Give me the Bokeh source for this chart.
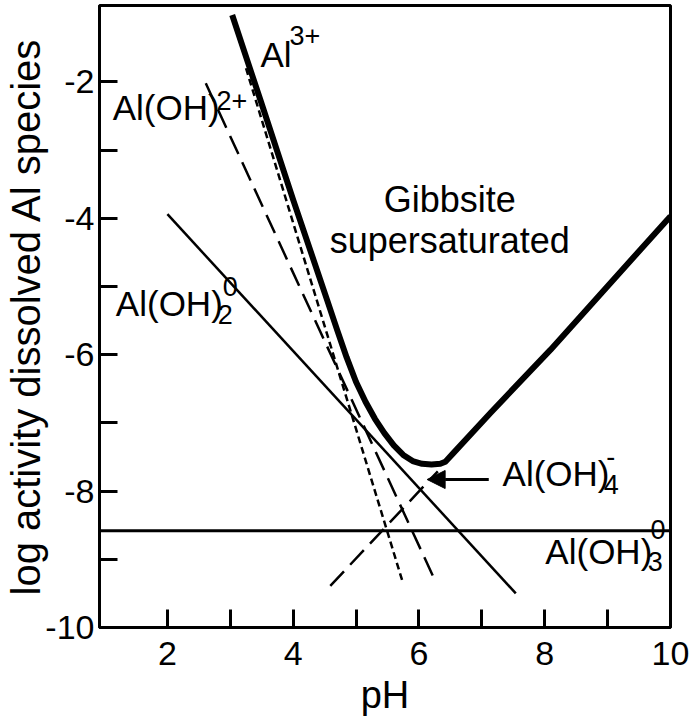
from bokeh.plotting import figure
from bokeh.models import FixedTicker, Arrow, NormalHead, Range1d
from bokeh.core.properties import value
from bokeh.embed import file_html
from bokeh.resources import INLINE

# --- axis ticks ---
x_ticks = [2, 4, 6, 8, 10]
x_minor = [3, 5, 7, 9]
y_ticks = [-10, -8, -6, -4, -2]
y_minor = [-9, -7, -5, -3]
y_tick_labels = ["-10", "-8", "-6", "-4", "-2"]

# --- total dissolved Al in equilibrium with gibbsite (thick curve) ---
ph_total = [3.03, 3.48, 4.00, 4.54, 4.70, 4.85, 5.00, 5.15, 5.30, 5.45,
            5.60, 5.75, 5.90, 6.05, 6.20, 6.34, 6.42, 6.55, 7.14, 8.09,
            9.95, 10.0]
log_total = [-1.02, -2.27, -3.73, -5.20, -5.64, -6.04, -6.40, -6.69, -6.94, -7.15,
             -7.33, -7.47, -7.56, -7.60, -7.61, -7.60, -7.57, -7.44, -6.85, -5.93,
             -4.02, -3.97]

# --- individual species lines ---
ph_al3 = [3.25, 5.75]          # Al3+ (dotted)
log_al3 = [-1.80, -9.36]

ph_aloh = [2.61, 6.27]         # Al(OH)2+ (dashed)
log_aloh = [-2.02, -9.34]

ph_aloh2 = [2.00, 7.54]        # Al(OH)2 (solid)
log_aloh2 = [-3.94, -9.50]

ph_aloh3 = [0.92, 10.0]        # Al(OH)3 (solid, horizontal)
log_aloh3 = [-8.58, -8.58]

ph_aloh4 = [4.59, 6.30]        # Al(OH)4- (dashed)
log_aloh4 = [-9.39, -7.71]

FONT = "Liberation Sans"

p = figure(width=691, height=724,
           x_range=Range1d(0.92, 10), y_range=Range1d(-10, -0.88),
           output_backend="svg", toolbar_location=None,
           min_border_left=99, min_border_right=21,
           min_border_top=5, min_border_bottom=97)

p.background_fill_color = "white"
p.border_fill_color = "white"
p.outline_line_color = "black"
p.outline_line_width = 3
p.xgrid.visible = False
p.ygrid.visible = False

for ax, ticks, minor in ((p.xaxis[0], x_ticks, x_minor), (p.yaxis[0], y_ticks, y_minor)):
    ax.ticker = FixedTicker(ticks=ticks, minor_ticks=minor)
    ax.major_tick_in = 18
    ax.major_tick_out = 0
    ax.minor_tick_in = 18
    ax.minor_tick_out = 0
    ax.major_tick_line_width = 3
    ax.minor_tick_line_width = 3
    ax.major_tick_line_color = "black"
    ax.minor_tick_line_color = "black"
    ax.axis_line_width = 3
    ax.axis_line_color = "black"
    ax.major_label_text_font = FONT
    ax.major_label_text_font_size = "34px"
    ax.major_label_text_color = "black"
    ax.axis_label_text_font = FONT
    ax.axis_label_text_font_style = "normal"
    ax.axis_label_text_color = "black"

p.xaxis.axis_label = "pH"
p.xaxis.axis_label_text_font_size = "38px"
p.xaxis.major_label_standoff = 14
p.xaxis.axis_label_standoff = 6

p.yaxis.axis_label = "log activity dissolved Al species"
p.yaxis.axis_label_text_font_size = "40px"
p.yaxis.major_label_overrides = dict(zip(y_ticks, y_tick_labels))
p.yaxis.major_label_standoff = 5
p.yaxis.axis_label_standoff = -6

# species lines
p.line(ph_aloh3, log_aloh3, line_color="black", line_width=3)
p.line(ph_aloh2, log_aloh2, line_color="black", line_width=2.5)
p.line(ph_aloh, log_aloh, line_color="black", line_width=2.5, line_dash="20 9")
p.line(ph_aloh4, log_aloh4, line_color="black", line_width=2.5, line_dash="20 9")
p.line(ph_al3, log_al3, line_color="black", line_width=2.5, line_dash="7 4")

# gibbsite solubility (total Al)
p.line(ph_total, log_total, line_color="black", line_width=6, line_join="round")

# arrow pointing at the Al(OH)4- line
p.add_layout(Arrow(end=NormalHead(size=18, fill_color="black", line_color="black"),
                   x_start=7.11, y_start=-7.83, x_end=6.13, y_end=-7.83,
                   line_color="black", line_width=3))

common = dict(text_font=value(FONT), text_color="black",
              text_align="left", text_baseline="alphabetic")

# main species names
p.text(x=[3.48, 1.13, 1.18, 7.33, 8.01],
       y=[-1.60, -2.37, -5.25, -7.74, -8.89],
       text=["Al", "Al(OH)", "Al(OH)", "Al(OH)", "Al(OH)"],
       text_font_size=value("35px"), **common)

# charges (superscripts)
p.text(x=[3.94, 2.78, 2.88, 8.98, 9.68],
       y=[-1.32, -2.27, -5.00, -7.50, -8.56],
       text=["3+", "2+", "0", "-", "0"],
       text_font_size=value("27px"), **common)

# stoichiometry (subscripts)
p.text(x=[2.80, 8.94, 9.64],
       y=[-5.41, -7.90, -9.03],
       text=["2", "4", "3"],
       text_font_size=value("27px"), **common)

# field label
p.text(x=[6.49, 6.49], y=[-3.72, -4.33],
       text=["Gibbsite", "supersaturated"],
       text_font_size=value("36px"), text_font=value(FONT), text_color="black",
       text_align="center", text_baseline="alphabetic")

open("out.html", "w").write(file_html(p, INLINE))
